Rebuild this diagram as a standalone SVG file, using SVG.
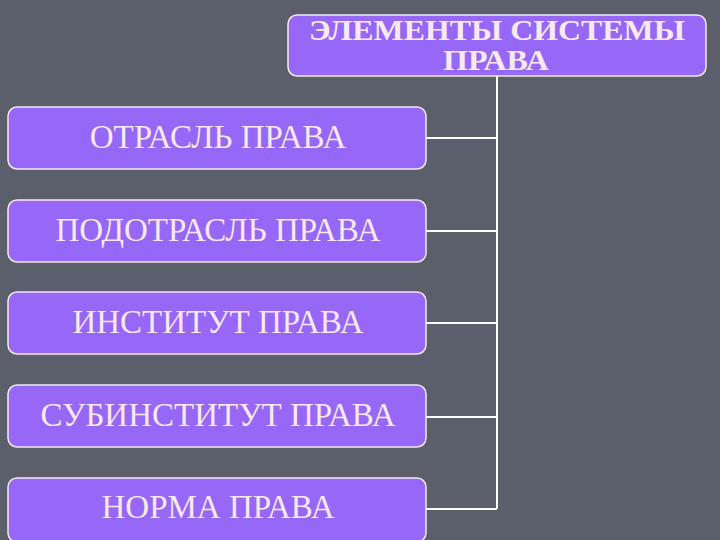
<svg xmlns="http://www.w3.org/2000/svg" width="720" height="540" viewBox="0 0 720 540">
<style>
.box{fill:#9767f7;stroke:#f2eaf4;stroke-width:1.5}
.t{font-family:"Liberation Serif",serif;font-size:33px;fill:#f7e9f2;text-anchor:middle}
.h{font-family:"Liberation Serif",serif;font-size:29px;font-weight:bold;fill:#f7e9f2;text-anchor:middle}
.c{stroke:#ffffff;stroke-width:2;fill:none}
</style>
<rect width="720" height="540" fill="#5b5e6b"/>
<g id="connectors">
<path class="c" d="M497 76 V509"/>
<path class="c" d="M426 138 H497 M426 231 H497 M426 323 H497 M426 417 H497 M426 509 H497"/>
</g>
<g id="root">
<rect class="box" x="288" y="15" width="418" height="61" rx="9"/>
<text class="h" x="497" y="40" textLength="376" lengthAdjust="spacingAndGlyphs">ЭЛЕМЕНТЫ СИСТЕМЫ</text>
<text class="h" x="496" y="70" textLength="106" lengthAdjust="spacingAndGlyphs">ПРАВА</text>
</g>
<g id="n1">
<rect class="box" x="8" y="107" width="418" height="62" rx="9"/>
<text class="t" x="218" y="148">ОТРАСЛЬ ПРАВА</text>
</g>
<g id="n2">
<rect class="box" x="8" y="200" width="418" height="62" rx="9"/>
<text class="t" x="218" y="241">ПОДОТРАСЛЬ ПРАВА</text>
</g>
<g id="n3">
<rect class="box" x="8" y="292" width="418" height="62" rx="9"/>
<text class="t" x="218" y="333">ИНСТИТУТ ПРАВА</text>
</g>
<g id="n4">
<rect class="box" x="8" y="385" width="418" height="62" rx="9"/>
<text class="t" x="218" y="426">СУБИНСТИТУТ ПРАВА</text>
</g>
<g id="n5">
<rect class="box" x="8" y="478" width="418" height="64" rx="9"/>
<text class="t" x="218" y="518">НОРМА ПРАВА</text>
</g>
</svg>
